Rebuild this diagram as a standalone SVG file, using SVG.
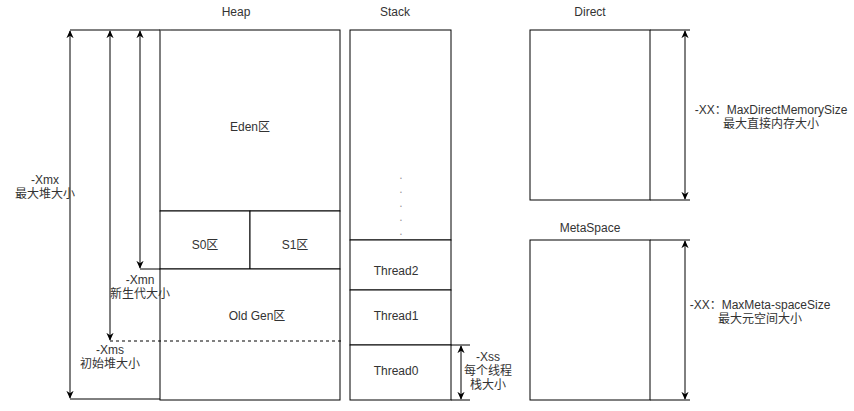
<svg xmlns="http://www.w3.org/2000/svg" width="854" height="411" viewBox="0 0 854 411">
<style>
.b{fill:#fff;stroke:#000;stroke-width:1}
.l{fill:none;stroke:#000;stroke-width:1}
.t{font-family:"Liberation Sans","Noto Sans CJK SC",sans-serif;font-size:12px;fill:#333;text-anchor:middle}
</style>
<defs>
<marker id="a" viewBox="0 0 10 10" refX="9" refY="5" markerWidth="8" markerHeight="8" orient="auto-start-reverse" markerUnits="userSpaceOnUse">
<path d="M0,0.5 L10,5 L0,9.5 L3,5 Z" fill="#000"/>
</marker>
</defs>
<rect width="854" height="411" fill="#fff"/>

<g id="heap">
<text class="t" x="236" y="16">Heap</text>
<rect class="b" x="160" y="30" width="180" height="181"/>
<text class="t" x="250" y="131">Eden区</text>
<rect class="b" x="160" y="211" width="90" height="58"/>
<text class="t" x="205" y="249">S0区</text>
<rect class="b" x="250" y="211" width="90" height="58"/>
<text class="t" x="295" y="249">S1区</text>
<rect class="b" x="160" y="269" width="180" height="131"/>
<text class="t" x="257" y="320">Old Gen区</text>
</g>

<g id="stack">
<text class="t" x="395" y="16">Stack</text>
<rect class="b" x="350" y="30" width="101" height="210"/>
<g class="t" font-size="9" fill="#999">
<text x="401" y="179" fill="#999">.</text>
<text x="401" y="193" fill="#999">.</text>
<text x="401" y="207" fill="#999">.</text>
<text x="401" y="221" fill="#999">.</text>
<text x="401" y="235" fill="#999">.</text>
</g>
<rect class="b" x="350" y="240" width="101" height="50"/>
<text class="t" x="396" y="275">Thread2</text>
<rect class="b" x="350" y="290" width="101" height="55"/>
<text class="t" x="396" y="320">Thread1</text>
<rect class="b" x="350" y="345" width="101" height="55"/>
<text class="t" x="396" y="375">Thread0</text>
</g>

<g id="direct">
<text class="t" x="590" y="16">Direct</text>
<rect class="b" x="530" y="30" width="120" height="170"/>
</g>

<g id="metaspace">
<text class="t" x="590" y="232">MetaSpace</text>
<rect class="b" x="530" y="240" width="120" height="160"/>
</g>

<g id="connectors">
<line class="l" x1="70" y1="30" x2="160" y2="30"/>
<line x1="160" y1="30" x2="171" y2="30" stroke="#888" stroke-width="1"/>
<line class="l" x1="70" y1="399" x2="160" y2="399"/>
<line class="l" x1="70" y1="214" x2="70" y2="31" marker-end="url(#a)"/>
<line class="l" x1="70" y1="214" x2="70" y2="398" marker-end="url(#a)"/>
<line class="l" x1="140" y1="150" x2="140" y2="31" marker-end="url(#a)"/>
<line class="l" x1="140" y1="150" x2="140" y2="268" marker-end="url(#a)"/>
<line class="l" x1="140" y1="269" x2="160" y2="269"/>
<line class="l" x1="110" y1="185" x2="110" y2="31" marker-end="url(#a)"/>
<line class="l" x1="110" y1="185" x2="110" y2="340" marker-end="url(#a)"/>
<line x1="110" y1="341" x2="342" y2="341" stroke="#000" stroke-dasharray="3,3"/>
<line class="l" x1="451" y1="345" x2="470" y2="345"/>
<line class="l" x1="451" y1="400" x2="470" y2="400"/>
<line class="l" x1="461" y1="372" x2="461" y2="346" marker-end="url(#a)"/>
<line class="l" x1="461" y1="372" x2="461" y2="399" marker-end="url(#a)"/>
<line class="l" x1="650" y1="30" x2="690" y2="30"/>
<line class="l" x1="650" y1="200" x2="690" y2="200"/>
<line class="l" x1="685" y1="115" x2="685" y2="31" marker-end="url(#a)"/>
<line class="l" x1="685" y1="115" x2="685" y2="199" marker-end="url(#a)"/>
<line class="l" x1="650" y1="240" x2="690" y2="240"/>
<line class="l" x1="650" y1="400" x2="690" y2="400"/>
<line class="l" x1="685" y1="320" x2="685" y2="241" marker-end="url(#a)"/>
<line class="l" x1="685" y1="320" x2="685" y2="399" marker-end="url(#a)"/>
</g>

<g id="labels">
<text class="t" x="45" y="184">-Xmx</text>
<text class="t" x="45" y="198">最大堆大小</text>
<text class="t" x="140" y="284">-Xmn</text>
<text class="t" x="140" y="298">新生代大小</text>
<text class="t" x="110" y="354">-Xms</text>
<text class="t" x="110" y="368">初始堆大小</text>
<text class="t" x="488" y="361">-Xss</text>
<text class="t" x="488" y="375">每个线程</text>
<text class="t" x="488" y="389">栈大小</text>
<text class="t" x="771" y="114">-XX：MaxDirectMemorySize</text>
<text class="t" x="771" y="128">最大直接内存大小</text>
<text class="t" x="760" y="309">-XX：MaxMeta-spaceSize</text>
<text class="t" x="760" y="323">最大元空间大小</text>
</g>
</svg>
